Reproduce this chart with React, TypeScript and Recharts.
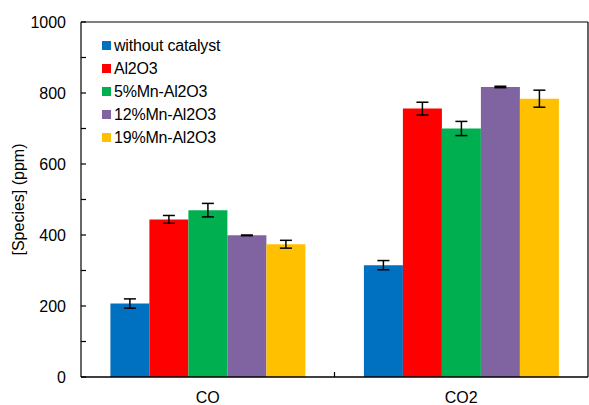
import React from "react";
import { BarChart, Bar, XAxis, YAxis, ErrorBar } from "recharts";

const categories = ["CO", "CO2"];
const withoutCatalyst = [207, 315];
const withoutCatalystErr = [13, 13];
const al2o3 = [444, 756];
const al2o3Err = [11, 18];
const mn5 = [470, 700];
const mn5Err = [19, 20];
const mn12 = [399, 817];
const mn12Err = [1, 2];
const mn19 = [374, 784];
const mn19Err = [11, 24];
const yTicks = [0, 100, 200, 300, 400, 500, 600, 700, 800, 900, 1000];

const series = [
  { key: "s0", name: "without catalyst", color: "#0070C0", values: withoutCatalyst, errs: withoutCatalystErr },
  { key: "s1", name: "Al2O3", color: "#FF0000", values: al2o3, errs: al2o3Err },
  { key: "s2", name: "5%Mn-Al2O3", color: "#00B050", values: mn5, errs: mn5Err },
  { key: "s3", name: "12%Mn-Al2O3", color: "#8064A2", values: mn12, errs: mn12Err },
  { key: "s4", name: "19%Mn-Al2O3", color: "#FFC000", values: mn19, errs: mn19Err },
];

const data = categories.map((name, i) => {
  const row: any = { name };
  series.forEach((s) => {
    row[s.key] = s.values[i];
    row[s.key + "Err"] = s.errs[i];
  });
  return row;
});

const W = 589;
const H = 405;
const LEFT = 81;
const TOP = 21;
const FONT = "'Liberation Sans', Arial, sans-serif";

// inward tick marks at every 100, labels only every 200
const YTick = (props: any) => {
  const { y, payload } = props;
  return (
    <g>
      <rect x={LEFT} y={y - 0.6} width={5} height={1.2} fill="#000" />
      {payload.value % 200 === 0 && (
        <text x={LEFT - 15} y={y} dy={6} textAnchor="end" fontSize={16} fill="#000" fontFamily={FONT}>
          {payload.value}
        </text>
      )}
    </g>
  );
};

const XTick = (props: any) => {
  const { x, y, payload, index } = props;
  const band = (W - LEFT - 1) / categories.length;
  return (
    <g>
      <text x={x} y={y + 26} textAnchor="middle" fontSize={16} fill="#000" fontFamily={FONT}>
        {payload.value}
      </text>
      {index < categories.length - 1 && (
        <rect x={x + band / 2 - 0.6} y={y - 5} width={1.2} height={5} fill="#000" />
      )}
    </g>
  );
};

// legend sits inside the plot frame, so keep it out of recharts' layout
const LegendBox = () => (
  <div style={{ position: "absolute", left: 102, top: 34, fontFamily: FONT, fontSize: 16, color: "#000" }}>
    {series.map((s) => (
      <div key={s.key} style={{ display: "flex", alignItems: "center", height: 23 }}>
        <span style={{ width: 9, height: 9, background: s.color, marginRight: 3, display: "inline-block" }} />
        <span style={{ letterSpacing: -0.2 }}>{s.name}</span>
      </div>
    ))}
  </div>
);

export default function App() {
  return (
    <div style={{ position: "absolute", left: 0, top: 0, width: W, height: H, background: "#fff" }}>
      <BarChart
        width={W}
        height={H}
        data={data}
        margin={{ top: TOP, right: 0, bottom: 0, left: 0 }}
        barCategoryGap="11.6%"
        barGap={0}
      >
        <XAxis
          dataKey="name"
          height={28}
          axisLine={{ stroke: "#000", strokeWidth: 1.5 }}
          tickLine={false}
          tickSize={0}
          tickMargin={0}
          tick={<XTick />}
          interval={0}
        />
        <XAxis
          xAxisId="top"
          dataKey="name"
          orientation="top"
          height={1}
          axisLine={{ stroke: "#000", strokeWidth: 1.2 }}
          tick={false}
          tickLine={false}
        />
        <YAxis
          width={LEFT}
          domain={[0, 1000]}
          ticks={yTicks}
          interval={0}
          tickLine={false}
          tick={<YTick />}
          axisLine={{ stroke: "#000", strokeWidth: 1.2 }}
          label={{
            value: "[Species] (ppm)",
            angle: -90,
            position: "insideLeft",
            offset: 18,
            style: { textAnchor: "middle", fontSize: 16, fontFamily: FONT, fill: "#000" },
          }}
        />
        <YAxis
          yAxisId="right"
          orientation="right"
          width={1}
          domain={[0, 1000]}
          tick={false}
          tickLine={false}
          axisLine={{ stroke: "#000", strokeWidth: 1.2 }}
        />
        {series.map((s) => (
          <Bar key={s.key} dataKey={s.key} name={s.name} fill={s.color} isAnimationActive={false}>
            <ErrorBar dataKey={s.key + "Err"} width={6} stroke="#000" strokeWidth={1.5} />
          </Bar>
        ))}
      </BarChart>
      <LegendBox />
    </div>
  );
}
